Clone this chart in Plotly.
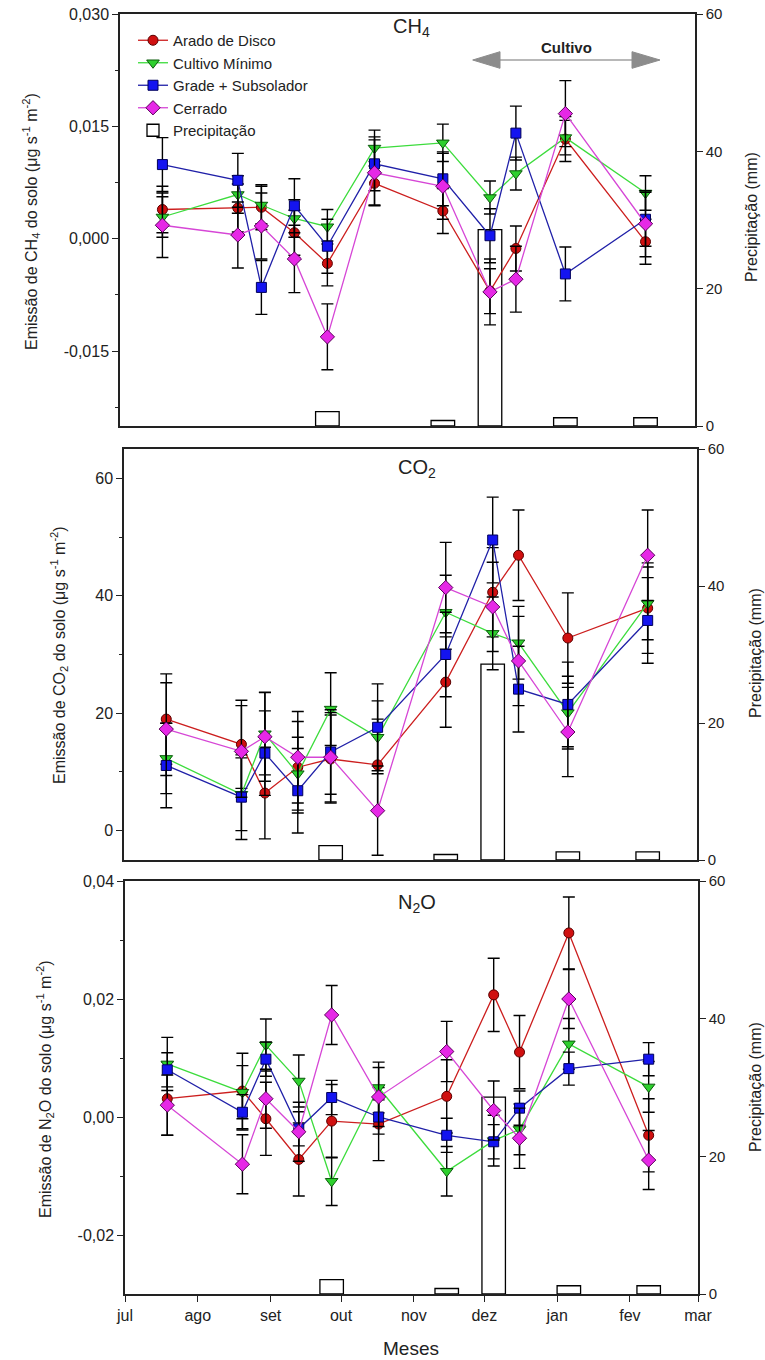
import plotly.graph_objects as go

# ---------------- data ----------------
dates = ["2011-07-19", "2011-08-20", "2011-08-30", "2011-09-13", "2011-09-27",
         "2011-10-17", "2011-11-15", "2011-12-05", "2011-12-16", "2012-01-06", "2012-02-09"]

series_names = ["Arado de Disco", "Cultivo Mínimo", "Grade + Subsolador", "Cerrado"]

# CH4 (µg s-1 m-2)
ch4_arado = [0.0039, 0.0041, 0.0042, 0.0008, -0.0033, 0.0074, 0.0037, -0.0070, -0.0013, 0.0133, -0.0004]
ch4_cultivo = [0.0029, 0.0059, 0.0045, 0.0027, 0.0016, 0.0121, 0.0128, 0.0055, 0.0087, 0.0135, 0.0061]
ch4_grade = [0.0099, 0.0078, -0.0065, 0.0044, -0.0010, 0.0100, 0.0080, 0.0004, 0.0141, -0.0047, 0.0026]
ch4_cerrado = [0.0018, 0.0005, 0.0017, -0.0027, -0.0131, 0.0088, 0.0070, -0.0071, -0.0054, 0.0167, 0.0020]
ch4_err_arado = [0.0031, 0.0032, 0.0030, 0.0030, 0.0030, 0.0029, 0.0030, 0.0030, 0.0030, 0.0030, 0.0030]
ch4_err_cultivo = [0.0027, 0.0025, 0.0025, 0.0025, 0.0023, 0.0024, 0.0025, 0.0022, 0.0022, 0.0023, 0.0023]
ch4_err_grade = [0.0036, 0.0036, 0.0036, 0.0036, 0.0036, 0.0036, 0.0036, 0.0036, 0.0036, 0.0036, 0.0036]
ch4_err_cerrado = [0.0043, 0.0044, 0.0044, 0.0045, 0.0044, 0.0044, 0.0044, 0.0044, 0.0044, 0.0044, 0.0044]

# CO2
co2_arado = [19.0, 14.7, 6.4, 10.8, 12.2, 11.2, 25.3, 40.6, 46.9, 32.8, 37.9]
co2_cultivo = [12.3, 6.2, 16.5, 9.7, 20.7, 15.9, 37.2, 33.6, 32.0, 20.1, 38.7]
co2_grade = [11.1, 5.7, 13.2, 6.8, 13.4, 17.6, 30.0, 49.5, 24.1, 21.5, 35.8]
co2_cerrado = [17.3, 13.5, 16.0, 12.5, 12.5, 3.4, 41.4, 38.1, 28.9, 16.8, 46.9]
co2_err_arado = [7.7, 7.5, 7.8, 7.8, 7.5, 7.8, 7.7, 7.6, 7.7, 7.7, 7.7]
co2_err_cultivo = [6.0, 6.2, 7.0, 6.2, 6.2, 6.2, 6.3, 6.2, 6.2, 6.2, 6.2]
co2_err_grade = [7.2, 7.2, 7.2, 7.2, 7.2, 7.4, 7.2, 7.3, 7.3, 7.2, 7.3]
co2_err_cerrado = [7.9, 7.8, 7.6, 7.8, 7.6, 7.6, 7.7, 7.6, 7.6, 7.6, 7.7]

# N2O
n2o_arado = [0.0031, 0.0044, -0.0003, -0.0072, -0.0007, -0.0012, 0.0035, 0.0207, 0.0110, 0.0312, -0.0031]
n2o_cultivo = [0.0090, 0.0042, 0.0122, 0.0061, -0.0109, 0.0050, -0.0092, -0.0040, -0.0021, 0.0124, 0.0051]
n2o_grade = [0.0080, 0.0008, 0.0098, -0.0020, 0.0033, 0.0000, -0.0031, -0.0042, 0.0015, 0.0082, 0.0098]
n2o_cerrado = [0.0020, -0.0080, 0.0031, -0.0025, 0.0173, 0.0034, 0.0111, 0.0011, -0.0036, 0.0200, -0.0073]
n2o_err_arado = [0.0062, 0.0064, 0.0062, 0.0062, 0.0062, 0.0062, 0.0062, 0.0062, 0.0062, 0.0061, 0.0062]
n2o_err_cultivo = [0.0045, 0.0045, 0.0044, 0.0044, 0.0041, 0.0043, 0.0042, 0.0043, 0.0043, 0.0043, 0.0043]
n2o_err_grade = [0.0029, 0.0030, 0.0029, 0.0029, 0.0029, 0.0029, 0.0029, 0.0029, 0.0029, 0.0028, 0.0028]
n2o_err_cerrado = [0.0051, 0.0050, 0.0050, 0.0050, 0.0050, 0.0050, 0.0051, 0.0050, 0.0051, 0.0050, 0.0050]

# precipitation (mm)
precip_dates = ["2011-09-27", "2011-11-15", "2011-12-05", "2012-01-06", "2012-02-09"]
precip_mm = [2.1, 0.8, 28.6, 1.2, 1.2]

month_ticks = ["2011-07-01", "2011-08-01", "2011-09-01", "2011-10-01", "2011-11-01",
               "2011-12-01", "2012-01-01", "2012-02-01", "2012-03-01"]
month_labels = ["jul", "ago", "set", "out", "nov", "dez", "jan", "fev", "mar"]

ch4_ticks = [-0.015, 0.0, 0.015, 0.030]
ch4_ticktext = ["-0,015", "0,000", "0,015", "0,030"]
co2_ticks = [0, 20, 40, 60]
co2_ticktext = ["0", "20", "40", "60"]
n2o_ticks = [-0.02, 0.0, 0.02, 0.04]
n2o_ticktext = ["-0,02", "0,00", "0,02", "0,04"]
precip_ticks = [0, 20, 40, 60]

# ---------------- styling ----------------
W, H = 765, 1360
FONT = "Liberation Sans, Arial, sans-serif"
AX = "#222222"

styles = [
    dict(symbol="circle", fill="#D01010", line="#CC1E1E", edge="#5a0000", size=10),
    dict(symbol="triangle-down", fill="#2ED02E", line="#3CDC3C", edge="#0b5a0b", size=11),
    dict(symbol="square", fill="#1414F0", line="#2020A8", edge="#00005a", size=10),
    dict(symbol="diamond", fill="#E628E6", line="#D646D6", edge="#5a005a", size=11),
]

def fx(x):
    return x / W

def fy(y):
    return 1 - y / H

panels = [  # left, right, top, bottom in px
    (120, 695, 14, 426),
    (124, 697, 449, 860),
    (125, 698, 881, 1294),
]

data_sets = [
    ([ch4_arado, ch4_cultivo, ch4_grade, ch4_cerrado],
     [ch4_err_arado, ch4_err_cultivo, ch4_err_grade, ch4_err_cerrado]),
    ([co2_arado, co2_cultivo, co2_grade, co2_cerrado],
     [co2_err_arado, co2_err_cultivo, co2_err_grade, co2_err_cerrado]),
    ([n2o_arado, n2o_cultivo, n2o_grade, n2o_cerrado],
     [n2o_err_arado, n2o_err_cultivo, n2o_err_grade, n2o_err_cerrado]),
]

fig = go.Figure()
layout = {}

for p in range(3):
    xa = "x" if p == 0 else f"x{p + 1}"
    yb = "y" if p == 0 else f"y{2 * p + 1}"
    ye = f"y{2 * p + 2}"
    # precipitation bars on base axis (drawn underneath)
    fig.add_trace(go.Bar(
        x=precip_dates, y=precip_mm, width=[10 * 86400000] * len(precip_dates),
        marker=dict(color="white", line=dict(color="black", width=1.3)),
        name="Precipitação", xaxis=xa, yaxis=yb, showlegend=(p == 0), legendrank=5,
    ))
    vals, errs = data_sets[p]
    for i in range(4):
        st = styles[i]
        fig.add_trace(go.Scatter(
            x=dates, y=vals[i], mode="lines+markers", name=series_names[i],
            line=dict(color=st["line"], width=1.3),
            marker=dict(symbol=st["symbol"], size=st["size"], color=st["fill"],
                        line=dict(color=st["edge"], width=1)),
            error_y=dict(type="data", array=errs[i], visible=True, color="black",
                         thickness=1.4, width=6),
            xaxis=xa, yaxis=ye, showlegend=(p == 0), legendrank=i + 1,
        ))

    l, r, t, b = panels[p]
    xkey = "xaxis" if p == 0 else f"xaxis{p + 1}"
    ybkey = "yaxis" if p == 0 else f"yaxis{2 * p + 1}"
    yekey = f"yaxis{2 * p + 2}"
    xdict = dict(domain=[fx(l), fx(r)], anchor=yb, type="date",
                 range=["2011-07-01", "2012-03-01"], showline=True, mirror=True,
                 linecolor=AX, linewidth=1.5, showgrid=False, zeroline=False,
                 automargin=False)
    if p == 2:
        xdict.update(tickvals=month_ticks, ticktext=month_labels, ticks="outside",
                     ticklen=6, tickcolor=AX, tickwidth=1.3,
                     tickfont=dict(family=FONT, size=16, color=AX))
    else:
        xdict.update(showticklabels=False, ticks="")
    layout[xkey] = xdict
    layout[ybkey] = dict(domain=[fy(b), fy(t)], anchor=xa, side="right", range=[0, 60],
                         tickvals=precip_ticks, ticks="outside", ticklen=6, tickcolor=AX,
                         tickwidth=1.3, showline=True, linecolor=AX, linewidth=1.5,
                         showgrid=False, zeroline=False, automargin=False,
                         tickfont=dict(family=FONT, size=15, color=AX))
    if p == 0:
        rng, tv, tt, mv = [-0.025, 0.030], ch4_ticks, ch4_ticktext, [-0.0225, -0.0075, 0.0075, 0.0225]
    elif p == 1:
        rng, tv, tt, mv = [-5, 65], co2_ticks, co2_ticktext, [10, 30, 50]
    else:
        rng, tv, tt, mv = [-0.03, 0.04], n2o_ticks, n2o_ticktext, [-0.01, 0.01, 0.03]
    layout[yekey] = dict(overlaying=yb, anchor=xa, side="left", range=rng,
                         tickvals=tv, ticktext=tt, ticks="outside", ticklen=6,
                         tickcolor=AX, tickwidth=1.3, showline=True, linecolor=AX,
                         linewidth=1.5, showgrid=False, zeroline=False, automargin=False,
                         minor=dict(tickvals=mv, ticks="outside", ticklen=3,
                                    tickcolor=AX, showgrid=False),
                         tickfont=dict(family=FONT, size=16, color=AX))

ann = []
# panel gas labels
for txt, x0, yc in [("CH<sub>4</sub>", 391, 27), ("CO<sub>2</sub>", 396, 468), ("N<sub>2</sub>O", 396, 903)]:
    ann.append(dict(text=txt, x=fx(x0), y=fy(yc), xref="paper", yref="paper",
                    xanchor="left", yanchor="middle", showarrow=False,
                    font=dict(family=FONT, size=20, color=AX)))
# left titles
left_titles = [
    ("Emissão de CH<sub>4</sub> do solo (μg s<sup>-1</sup> m<sup>-2</sup>)", 31, 222),
    ("Emissão de CO<sub>2</sub> do solo (μg s<sup>-1</sup> m<sup>-2</sup>)", 59, 655),
    ("Emissão de N<sub>2</sub>O do solo (μg s<sup>-1</sup> m<sup>-2</sup>)", 45, 1089),
]
for txt, xc, yc in left_titles:
    ann.append(dict(text=txt, x=fx(xc), y=fy(yc), xref="paper", yref="paper",
                    xanchor="center", yanchor="middle", textangle=-90, showarrow=False,
                    font=dict(family=FONT, size=16, color=AX)))
for xc, yc in [(752, 217), (755, 653), (755, 1087)]:
    ann.append(dict(text="Precipitação (mm)", x=fx(xc), y=fy(yc), xref="paper", yref="paper",
                    xanchor="center", yanchor="middle", textangle=-90, showarrow=False,
                    font=dict(family=FONT, size=16, color=AX)))
ann.append(dict(text="Meses", x=fx(411), y=fy(1348), xref="paper", yref="paper",
                xanchor="center", yanchor="middle", showarrow=False,
                font=dict(family=FONT, size=19, color=AX)))
ann.append(dict(text="<b>Cultivo</b>", x=fx(566), y=fy(48), xref="paper", yref="paper",
                xanchor="center", yanchor="middle", showarrow=False,
                font=dict(family=FONT, size=15, color=AX)))

GRAY = "#8c8c8c"
shapes = [
    dict(type="line", xref="paper", yref="paper", x0=fx(498), x1=fx(634), y0=fy(60), y1=fy(60),
         line=dict(color="#a0a0a0", width=1.5)),
    dict(type="path", xref="paper", yref="paper",
         path=f"M {fx(472.7)},{fy(60)} L {fx(500)},{fy(51.7)} L {fx(500)},{fy(68.3)} Z",
         fillcolor=GRAY, line=dict(color=GRAY, width=1)),
    dict(type="path", xref="paper", yref="paper",
         path=f"M {fx(660)},{fy(60)} L {fx(632)},{fy(51.7)} L {fx(632)},{fy(68.3)} Z",
         fillcolor=GRAY, line=dict(color=GRAY, width=1)),
]

fig.update_layout(
    template="none",
    width=W, height=H,
    margin=dict(l=0, r=0, t=0, b=0),
    paper_bgcolor="white", plot_bgcolor="white",
    font=dict(family=FONT, size=16, color=AX),
    separators=", ",
    barmode="overlay",
    legend=dict(x=fx(133), y=fy(24), xanchor="left", yanchor="top",
                bgcolor="rgba(0,0,0,0)", font=dict(family=FONT, size=15, color=AX),
                tracegroupgap=0, itemwidth=30),
    annotations=ann,
    shapes=shapes,
    **layout,
)

fig.write_html("out.html")
